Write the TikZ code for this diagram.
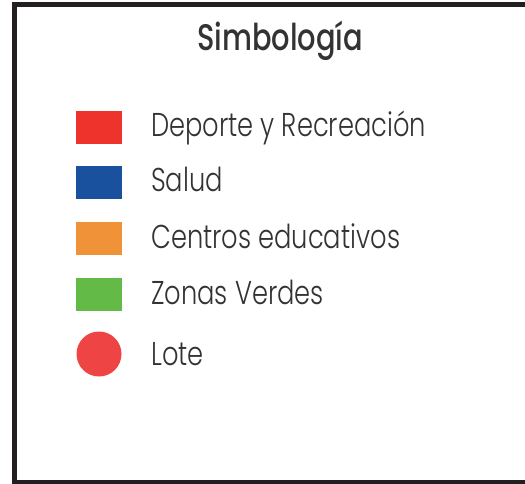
\documentclass[tikz,border=0pt]{standalone}
\usepackage{fontspec}
\setmainfont{Poppins}[UprightFont=* Light, BoldFont=* Medium, FakeStretch=0.78]
\definecolor{framec}{HTML}{231F20}
\definecolor{txt}{HTML}{333333}
\definecolor{cred}{HTML}{EE322C}
\definecolor{cblue}{HTML}{1A519F}
\definecolor{corange}{HTML}{F09237}
\definecolor{cgreen}{HTML}{64BA47}
\definecolor{ccirc}{HTML}{EE4444}
\begin{document}
\begin{tikzpicture}[x=1pt,y=-1pt,
  swatch/.style={minimum width=46pt,minimum height=33pt,inner sep=0pt,draw=none},
  dot/.style={circle,minimum size=45pt,inner sep=0pt,fill=ccirc},
  lbl/.style={anchor=base west,inner sep=0pt,text=txt,font=\fontsize{33}{34}\selectfont},
  ttl/.style={anchor=base,inner sep=0pt,text=txt,font=\bfseries\fontsize{37}{38}\selectfont}]
\useasboundingbox (0,0) rectangle (525,484);
\fill[white] (0,0) rectangle (525,484);
\draw[framec,line width=5pt,line join=miter] (530,4.5) -- (14.5,4.5) -- (14.5,482) -- (530,482);
\node[ttl] (title) at (280,51) {Simbología};
\node[swatch,fill=cred]    (s1) at (99,127.5) {};
\node[swatch,fill=cblue]   (s2) at (99,182.5) {};
\node[swatch,fill=corange] (s3) at (99,238) {};
\node[swatch,fill=cgreen]  (s4) at (99,294) {};
\node[dot] (s5) at (99,354) {};
\node[lbl] (l1) at (151,137) {Deporte y Recreación};
\node[lbl] (l2) at (151,192) {Salud};
\node[lbl] (l3) at (151,248) {Centros educativos};
\node[lbl] (l4) at (151,304) {Zonas Verdes};
\node[lbl] (l5) at (151,365) {Lote};
\end{tikzpicture}
\end{document}
